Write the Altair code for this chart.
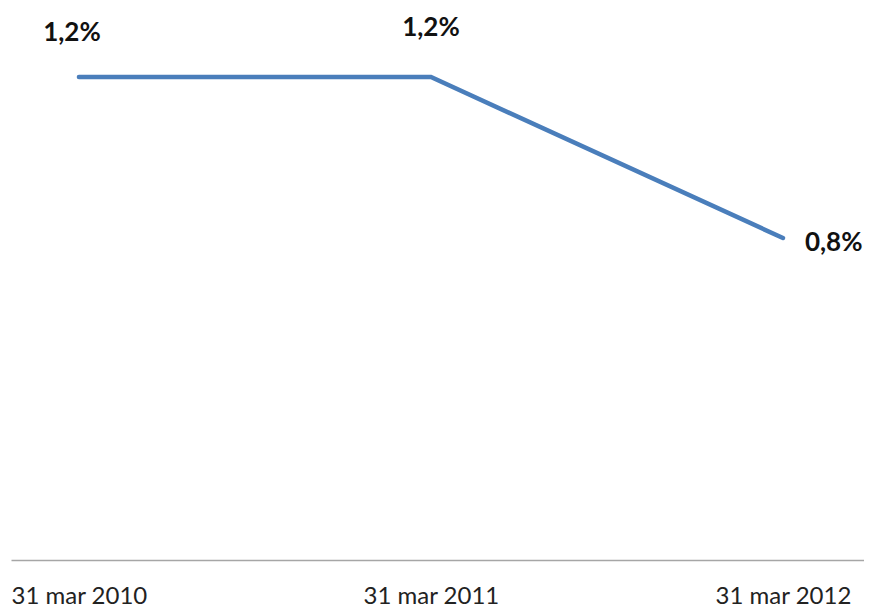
import altair as alt
import pandas as pd

dates = ["31 mar 2010", "31 mar 2011", "31 mar 2012"]
values = [1.2, 1.2, 0.8]
labels = ["1,2%", "1,2%", "0,8%"]

df = pd.DataFrame({"date": dates, "value": values, "label": labels})

FONT = "Lato"
x = alt.X("date:N", sort=dates, title=None,
          scale=alt.Scale(type="point", padding=0.2116, align=0.456),
          axis=alt.Axis(labelAngle=0, ticks=False, domainColor="#a6a6a6", domainWidth=1.5,
                        labelFontSize=24, labelFont=FONT, labelColor="#222222",
                        labelPadding=24, grid=False))
y = alt.Y("value:Q", title=None, scale=alt.Scale(domain=[0, 1.2], nice=False, zero=True),
          axis=None)

base = alt.Chart(df)
line = base.mark_line(color="#4a7ebb", strokeWidth=4.5, strokeCap="round").encode(x=x, y=y)

txt_style = dict(fontSize=26, fontWeight="bold", font=FONT, color="#111111", clip=False)
t1 = base.transform_filter(alt.datum.date == dates[0]).mark_text(dx=-7, dy=-44, **txt_style).encode(x=x, y=y, text="label:N")
t2 = base.transform_filter(alt.datum.date == dates[1]).mark_text(dx=0, dy=-49, **txt_style).encode(x=x, y=y, text="label:N")
t3 = base.transform_filter(alt.datum.date == dates[2]).mark_text(dx=22, dy=5, align="left", **txt_style).encode(x=x, y=y, text="label:N")

chart = alt.layer(line, t1, t2, t3).properties(
    width=853, height=483,
    padding={"left": 3, "top": 69, "right": 0, "bottom": 48},
    autosize=alt.AutoSizeParams(type="none"),
    background="white",
).configure_view(stroke=None)

chart.save("out.html", embed_options={"renderer": "svg", "actions": False})
